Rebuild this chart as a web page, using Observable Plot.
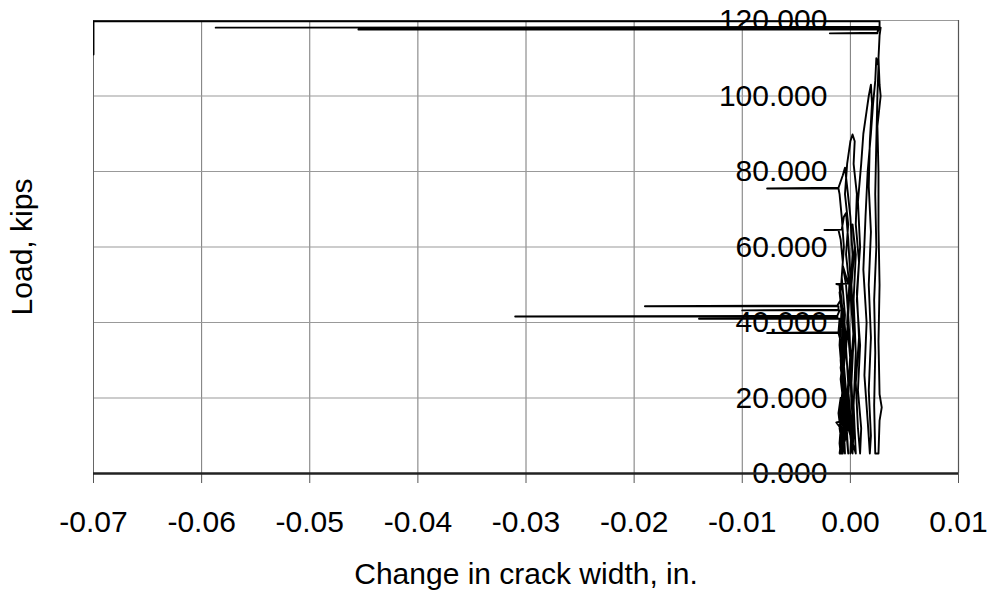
<!DOCTYPE html>
<html>
<head>
<meta charset="utf-8">
<script src="https://cdn.jsdelivr.net/npm/d3@7"></script>
<script src="https://cdn.jsdelivr.net/npm/@observablehq/plot@0.6"></script>
<style>
  html, body { margin: 0; padding: 0; background: #fff; }
  #chart svg { display: block; }
</style>
</head>
<body>
<div id="chart"></div>
<script>
// Tick values
const xTicks = [-0.07, -0.06, -0.05, -0.04, -0.03, -0.02, -0.01, 0.00, 0.01];
const yTicks = [0, 20, 40, 60, 80, 100, 120];
const xLabel = "Change in crack width, in.";
const yLabel = "Load, kips";

// Recorded trace: change in crack width (in.) and load (kips), in recording order
const crackWidth = [
  -0.0009, -0.0010, -0.0009, -0.0013, -0.0010, -0.0011, -0.0009, -0.0008, -0.0010, -0.0008, -0.0010,
  -0.0008, -0.0010, -0.0007, -0.0009, -0.0007, -0.0006, -0.0008, -0.0006, -0.0008, -0.0007,
  -0.0006, -0.0008, -0.0006, -0.0009, -0.0007, -0.0011, -0.0077, -0.0011, -0.0010, -0.0140,
  -0.0012, -0.0012, -0.0310, -0.0012, -0.0010, -0.0100, -0.0011, -0.0011, -0.0190, -0.0012,
  -0.0009, -0.0006, -0.0004, -0.0006, -0.0004, -0.0006, -0.0005,
  -0.0007, -0.0005, -0.0008, -0.0006, -0.0008, -0.0005, -0.0007, -0.0005, -0.0007,
  -0.0009, -0.0007, -0.0010, -0.0008, -0.0010, -0.0007, -0.0009, -0.0006, -0.0008,
  -0.0004, -0.0007, -0.0005, -0.0008, -0.0006, -0.0009, -0.0010, -0.0013, -0.0002, -0.0007,
  -0.0004, -0.0002, -0.0004, -0.0002, -0.0004, -0.0002,
  -0.0004, -0.0006, -0.0008, -0.0006, -0.0009, -0.0007, -0.0009, -0.0011, -0.0024, -0.0008,
  -0.0006, -0.0004, -0.0002, 0.0000, -0.0002, 0.0000, -0.0002, 0.0001, 0.0000,
  0.0002, 0.0000, 0.0003, 0.0001, 0.0004, 0.0002, 0.0005, 0.0003, 0.0005, 0.0003, 0.0005,
  -0.0002, -0.0004, -0.0007, -0.0005, -0.0008, -0.0006, -0.0008, -0.0010, -0.0011, -0.0077,
  -0.0011, -0.0007, -0.0005, -0.0003, 0.0000, 0.0002, 0.0000, 0.0003, 0.0001, 0.0003, 0.0002,
  0.0000, -0.0002, 0.0000, -0.0003, -0.0001, -0.0004, -0.0002, -0.0005, -0.0003, 0.0000,
  0.0002, 0.0004, 0.0003, 0.0006, 0.0005, 0.0008, 0.0006, 0.0009, 0.0007, 0.0010, 0.0009,
  0.0007, 0.0005, 0.0008, 0.0006, 0.0009, 0.0007, 0.0010, 0.0012, 0.0015, 0.0017,
  0.0019, 0.0020, 0.0018, 0.0017, 0.0019, 0.0017, 0.0019, 0.0017, 0.0019, 0.0018,
  0.0016, 0.0013, 0.0015, 0.0012, 0.0014, 0.0016, 0.0019, 0.0021, 0.0023, 0.0024,
  0.0026, 0.0025, 0.0024, 0.0023, 0.0024, 0.0022, 0.0023, 0.0022, 0.0023,
  0.0026, 0.0027, 0.0029, 0.0027, 0.0026, 0.0027, 0.0026, 0.0026, 0.0025, 0.0028,
  0.0027, 0.0026, 0.0027, 0.0028, -0.0587, 0.0026, 0.0025, -0.0019, 0.0025, 0.0026,
  -0.0455, 0.0027, 0.0027, -0.0700, -0.0700
];
const load = [
  5.3, 8.0, 12.0, 13.5, 13.7, 16.0, 20.0, 17.0, 12.0, 8.0, 5.3,
  10.0, 15.0, 20.0, 25.0, 30.0, 26.0, 20.0, 14.0, 9.0, 5.3,
  10.0, 16.0, 22.0, 28.0, 33.0, 37.2, 37.2, 37.4, 41.0, 41.0,
  41.1, 41.6, 41.6, 41.8, 43.2, 43.2, 43.4, 44.3, 44.3, 44.5,
  46.0, 42.0, 35.0, 28.0, 20.0, 12.0, 5.3,
  12.0, 20.0, 28.0, 36.0, 40.0, 34.0, 26.0, 16.0, 5.3,
  14.0, 24.0, 34.0, 44.0, 48.0, 40.0, 30.0, 18.0, 5.3,
  10.0, 16.0, 24.0, 30.0, 38.0, 45.0, 50.0, 50.2, 50.3, 55.0,
  50.0, 42.0, 33.0, 24.0, 15.0, 5.3,
  12.0, 20.0, 30.0, 40.0, 48.0, 56.0, 62.0, 64.5, 64.5, 64.6,
  68.0, 69.0, 62.0, 52.0, 42.0, 32.0, 22.0, 12.0, 5.3,
  14.0, 26.0, 38.0, 50.0, 60.0, 66.0, 58.0, 46.0, 32.0, 18.0, 5.3,
  12.0, 22.0, 32.0, 42.0, 52.0, 60.0, 68.0, 74.0, 75.5, 75.5,
  75.7, 79.0, 81.0, 76.0, 68.0, 58.0, 48.0, 36.0, 24.0, 12.0, 5.3,
  10.0, 20.0, 30.0, 40.0, 50.0, 58.0, 66.0, 74.0, 82.0, 88.0,
  89.8, 88.0, 82.0, 74.0, 66.0, 56.0, 46.0, 34.0, 22.0, 12.0, 5.3,
  12.0, 24.0, 36.0, 48.0, 60.0, 72.0, 82.0, 90.0, 96.0, 100.0,
  103.0, 98.0, 88.0, 76.0, 64.0, 50.0, 36.0, 22.0, 10.0, 5.3,
  14.0, 26.0, 40.0, 54.0, 68.0, 80.0, 90.0, 98.0, 104.0, 110.0,
  108.0, 100.0, 88.0, 74.0, 60.0, 46.0, 32.0, 18.0, 5.3,
  5.3, 14.0, 17.5, 21.0, 35.0, 50.0, 65.0, 80.0, 92.0, 100.0,
  103.0, 110.0, 116.0, 118.1, 118.1, 118.3, 116.6, 116.6, 116.8, 117.6,
  117.6, 117.7, 119.8, 119.8, 111.0
];

const trace = crackWidth.map((w, i) => ({w, p: load[i]}));
const fmtX = d => d.toFixed(2);
const fmtY = d => d.toFixed(3);

const chart = Plot.plot({
  width: 996,
  height: 596,
  marginLeft: 93,
  marginRight: 38,
  marginTop: 20,
  marginBottom: 123,
  style: {fontFamily: "'Liberation Sans', Arial, sans-serif", background: "#fff", color: "#000"},
  x: {domain: [-0.07, 0.01]},
  y: {domain: [0, 120], axis: null},
  marks: [
    Plot.gridX(xTicks, {stroke: "#777", strokeOpacity: 1, strokeWidth: 1}),
    Plot.gridY(yTicks, {stroke: "#999", strokeOpacity: 1, strokeWidth: 1}),
    Plot.ruleX([-0.07], {stroke: "#666", strokeWidth: 1}),
    Plot.ruleX([0.01], {stroke: "#555", strokeWidth: 1.2}),
    Plot.text(yTicks, {x: 0, y: d => d, text: fmtY, textAnchor: "end", dx: -23, fontSize: 30, fill: "#000"}),
    Plot.axisX({ticks: xTicks, tickFormat: fmtX, tickSize: 10, tickPadding: 27, fontSize: 30, label: null, stroke: "#555", color: "#000"}),
    Plot.text([xLabel], {x: -0.03, frameAnchor: "bottom", dy: 110, fontSize: 30, fill: "#000"}),
    Plot.text([yLabel], {frameAnchor: "left", dx: -71, rotate: -90, textAnchor: "middle", fontSize: 30, fill: "#000"}),
    Plot.line(trace, {x: "w", y: "p", stroke: "#000", strokeWidth: 1.9, clip: true}),
    Plot.ruleY([0], {stroke: "#222", strokeWidth: 2.5})
  ]
});
document.getElementById("chart").appendChild(chart);
</script>
</body>
</html>
